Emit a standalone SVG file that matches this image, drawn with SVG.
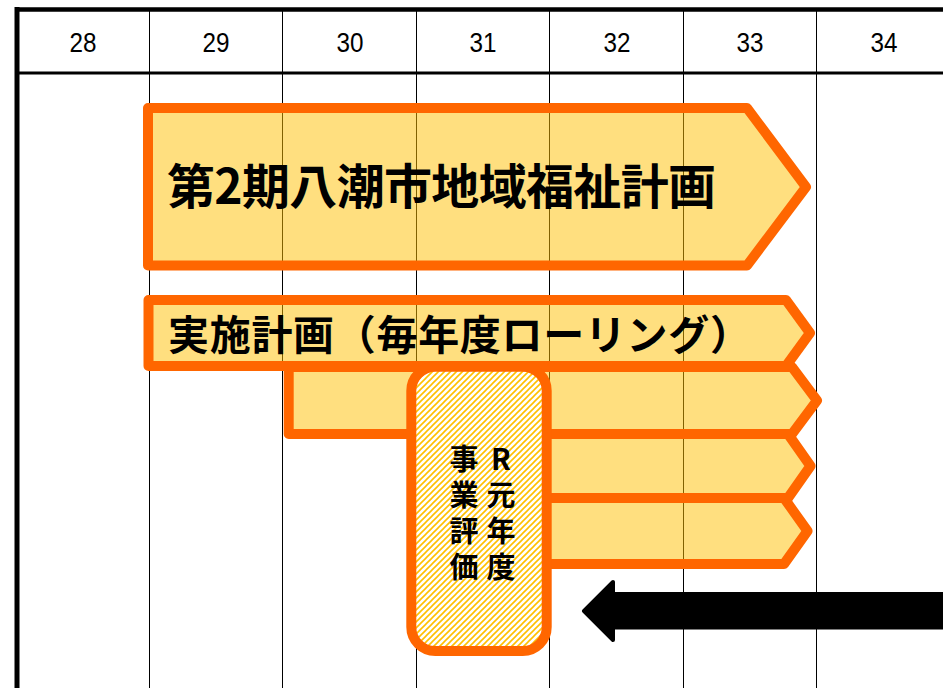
<svg xmlns="http://www.w3.org/2000/svg" width="943" height="688" viewBox="0 0 943 688">
<style>
.grid{stroke:#000;stroke-width:1;fill:none}
.hdr{font-family:"Liberation Sans",Arial,sans-serif;font-size:28px;fill:#000;text-anchor:middle}
.bar{fill:#FFC000;fill-opacity:0.5;stroke:#FF6600;stroke-width:10;stroke-linejoin:round}
.jp{font-family:"Noto Sans CJK JP","Noto Sans CJK SC",sans-serif;font-weight:bold;fill:#000}
.v{font-family:"Noto Sans CJK JP","Noto Sans CJK SC",sans-serif;font-weight:bold;font-size:29px;fill:#000;writing-mode:vertical-rl;text-orientation:upright;letter-spacing:7px}
</style>
<defs>
<pattern id="hatch" width="6" height="6" patternUnits="userSpaceOnUse">
<rect width="6" height="6" fill="#fff"/>
<path d="M-1.5,1.5 L1.5,-1.5 M0,6 L6,0 M4.5,7.5 L7.5,4.5" stroke="#FFC000" stroke-width="1.6"/>
</pattern>
</defs>
<rect width="943" height="688" fill="#fff"/>
<g id="grid">
<path class="grid" d="M149.5,9 V688 M282.5,9 V688 M416.5,9 V688 M549.5,9 V688 M683.5,9 V688 M816.5,9 V688"/>
<path d="M15,9.5 H943" stroke="#000" stroke-width="4.5"/>
<path d="M17,7 V688" stroke="#000" stroke-width="5"/>
<path d="M17,73 H943" stroke="#000" stroke-width="3"/>
<text class="hdr" x="83" y="52" textLength="27" lengthAdjust="spacingAndGlyphs">28</text>
<text class="hdr" x="216" y="52" textLength="27" lengthAdjust="spacingAndGlyphs">29</text>
<text class="hdr" x="350" y="52" textLength="27" lengthAdjust="spacingAndGlyphs">30</text>
<text class="hdr" x="483" y="52" textLength="27" lengthAdjust="spacingAndGlyphs">31</text>
<text class="hdr" x="617" y="52" textLength="27" lengthAdjust="spacingAndGlyphs">32</text>
<text class="hdr" x="750" y="52" textLength="27" lengthAdjust="spacingAndGlyphs">33</text>
<text class="hdr" x="884" y="52" textLength="27" lengthAdjust="spacingAndGlyphs">34</text>
</g>
<g id="plan2">
<path class="bar" d="M148,108 H747 L806,187 L747,265.5 H148 Z"/>
<text class="jp" x="167" y="204" font-size="48" textLength="549">第2期八潮市地域福祉計画</text>
</g>
<g id="bar5">
<path class="bar" d="M416,498 H784 L807.5,531 L784,564 H416 Z"/>
</g>
<g id="bar4">
<path class="bar" d="M416,434 H788 L810.5,466 L788,498 H416 Z"/>
</g>
<g id="bar3">
<path class="bar" d="M288.7,367 H792 L817,400.5 L792,434 H288.7 Z"/>
</g>
<g id="jisshi">
<path class="bar" d="M148.5,300 H786 L810,333 L786,366 H148.5 Z"/>
<text class="jp" x="168" y="350" font-size="41" textLength="583">実施計画（毎年度ローリング）</text>
</g>
<g id="hyoka">
<rect x="411.3" y="366.7" width="135.4" height="284.3" rx="24" ry="24" fill="url(#hatch)" stroke="#FF6600" stroke-width="10"/>
<text class="v" x="464" y="444">事業評価</text>
<text class="v" x="501" y="444">R元年度</text>
</g>
<g id="connectors">
<path d="M584,611 L613,582 V594 H950 V627.5 H613 V640 Z" fill="#000" stroke="#000" stroke-width="4" stroke-linejoin="round"/>
</g>
</svg>
